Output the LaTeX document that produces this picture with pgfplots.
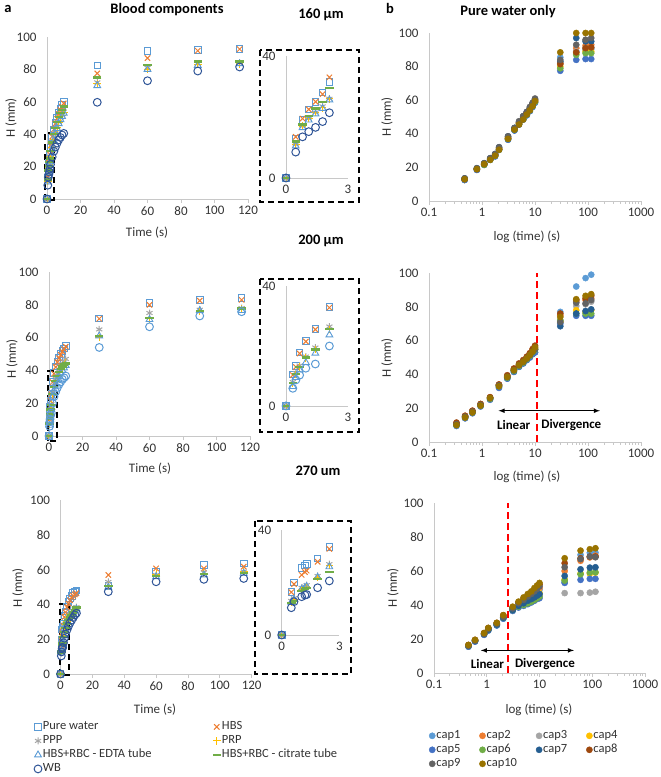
\documentclass[border=0pt]{standalone}
\usepackage{fontspec}
\setmainfont{Carlito}
\usepackage{pgfplots}
\usepackage{pgfplotstable}
\pgfplotsset{compat=1.18}

\definecolor{c1}{HTML}{5B9BD5}
\definecolor{c2}{HTML}{ED7D31}
\definecolor{c3}{HTML}{A5A5A5}
\definecolor{c4}{HTML}{FFC000}
\definecolor{c5}{HTML}{4472C4}
\definecolor{c6}{HTML}{70AD47}
\definecolor{c7}{HTML}{255E91}
\definecolor{c8}{HTML}{9E480E}
\definecolor{c9}{HTML}{636363}
\definecolor{c10}{HTML}{997300}
\definecolor{wbc}{HTML}{2F5597}
\definecolor{axg}{HTML}{C8C8C8}
\definecolor{tk}{HTML}{333333}

\pgfplotstableread{
t pw hbs ppp prp edta cit wb
0 0 0 0 0 0 0 0
0.47 13 13.5 11 11 10.5 12 8.5
0.8 19 19.5 17 17 16.5 17.5 13.5
1.1 22.5 22.5 19.5 19.5 19 20.3 15.2
1.43 25 25 21.5 21.5 21 22.8 16.6
1.77 28 27.5 23.5 23 22.8 25 18.5
2.1 31.5 33 26 26 25.6 29.6 21.4
3.1 38 38.5 32 31.5 31 35 26
4.1 43 43 37 36.5 36 40 29.5
5 47 46.5 41 40.5 40 44 32
6 50 49.5 44.5 44 43.5 47.5 34.5
7 53 52.5 47.5 47 46.5 50.5 36.5
8 55.5 55 50 49.5 49 53 38
9 58 57 52 51.5 51 55 39.5
10 60 59 54 53.5 53 57 40.5
30 82.5 77.5 72 71 70 75 59.7
60 91.5 87 81 80 80 82.7 73
90 92 91.5 83.5 83 82.5 84.8 79
115 92.5 92.5 84 83.5 83.5 85 81.5
}\aone

\pgfplotstableread{
t pw hbs ppp prp edta cit wb
0 0 0 0 0 0 0 0
0.33 10.5 10.3 8 7.5 6.5 7.6 5.9
0.48 13.3 13 11 10.5 9.5 10.7 8.7
0.66 17.8 17.5 13.5 13 12 13.1 10.3
0.96 21.7 21.5 16.5 16 14.5 16.2 12.6
1.42 25.6 25.5 19.5 18.8 17.6 18.9 14
2.1 33 32.8 26.5 25.5 23.7 25.6 20
3 38.5 38 31 30 28 30 24
4 42.5 42 35 33.5 31.5 33.5 27
5 45.5 45 38 36 34 36.5 29.5
6 48 47.5 40.5 38.5 36.5 39 31.5
7 50 49.5 42.5 40.5 38.5 41 33
8 52 51.5 44 42 40 42.5 34.5
9 53.5 53 45.5 43.5 41.5 43.5 35.5
10 55 54.5 47 44.5 43 44.3 36.6
30 71.8 71.5 65 60 61 61 54
60 81 80 75 71.5 71 72 66.6
90 83 82.5 77 76 76.5 76.4 73.2
115 84 83 78 77.5 76.5 77.8 75.8
}\atwo

\pgfplotstableread{
t pw hbs ppp prp edta cit wb
0 0 0 0 0 0 0 0
0.5 16.5 16.3 13 12.5 12.5 12.1 10.4
0.64 20 19.4 14 13.5 13.5 13 12.7
1.04 25.6 22.9 18 17.5 17.5 16.8 14.6
1.21 26.5 24 18.5 18 18 17.5 15.2
1.3 27 24.5 19 18.5 18.5 18 15.4
1.87 29.2 27.9 22.5 22 22 21.3 18
2.48 33.6 32.8 27 26.5 26 24.1 20.6
3.1 36 35.5 29 28.5 28 26.5 23
4.1 39 38.5 31 30.5 30 29 25.5
5 41.5 40.5 33 32.5 32 31 27.5
6 43.5 42.5 34.5 34 33.5 32.5 29.5
7 45 44 35.5 35 34.5 34 31
8 46.5 45 36.5 36 35.5 35.5 32.5
9 47.3 45.8 37.5 37 36.5 37 34
10 48 46.5 38.5 38 37.5 38.4 35
30 50.6 57 53 50.5 50 50.6 47.4
60 58.9 60.8 57 57.5 56 56.4 53.1
90 62.7 60.8 58.5 58 57 57.6 54.5
115 63.7 61.8 59 59 58 58.3 55
}\athree

\pgfplotstableread{
t c1 c2 c3 c4 c5 c6 c7 c8 c9 c10
0.47 12.5 13 13 13 12.5 13 13.5 13 13.5 13
0.8 18.5 19 19 19 18.5 19 19.5 19 19.5 19
1.1 21.5 22 22 22 21.5 21.5 22.5 22 22.5 22
1.43 24.5 25 25 25 24.5 24.5 25.5 25 25.5 24.5
1.77 27 27.5 27.5 27 26.5 27 28 27.5 28 27
2.1 30.5 31 31 31 30.5 30.5 32 31 32 30.5
3.1 36.5 37.5 37.5 37 36.5 37 38.5 37.5 38.5 37
4.1 42 43 43 42.5 42 42.5 43.5 43 43.5 42.5
5 45.5 46.5 46.5 46 45.5 46 47 46.5 47.5 45.5
6 48.5 50 49.5 49 48.5 49 50.5 50 50.5 48.5
7 51 52.5 52 51.5 51 51.5 53 52.5 53 51.5
8 53.5 55 54.5 54 53.5 54 55.5 55 56 54
9 56 57.5 57 56.5 56 56.5 58 57.5 58.5 56.5
10 58.5 60 59.5 59 58.5 59 60.5 60 61 59.5
30 85.5 82 82.5 80 77.5 79 83 81.5 84 88.5
60 89 91 89 88 84 87 97 88.5 93 100
90 90 92.5 91 89 84.5 88 95 91 96 100
115 90.5 93 91 89 84.5 88 95 91.5 97 100
}\bone

\pgfplotstableread{
t c1 c2 c3 c4 c5 c6 c7 c8 c9 c10
0.33 10 11 10.5 10.5 9.5 10 10.5 11.5 10.5 10
0.48 14.5 15.5 15 15 14 14.5 15 15.5 15 14.5
0.66 17.5 18.5 18 18 17 17.5 18 18.5 18 17.5
0.94 21.5 22.5 22 22 21 21.5 22 22.5 22 21.5
1.42 25.5 26.5 26 26 25 25.5 26 26.5 26 26
2.09 32.5 34 33.5 33.5 32 33 33.5 34 33.5 33
3 37.5 39 38.5 38.5 37.5 38 38.5 39.5 38.5 38.5
4 41.5 43 42.5 42.5 41.5 42 42.5 43.5 42.5 42.5
5 44.5 46 45.5 45.5 44.5 45 45.5 46.5 45.5 45.5
6 46.5 48 47.5 47.5 46.5 47 47.5 48.5 47.5 47.5
7 48.5 50 49.5 49.5 48.5 49 49.5 50.5 49.5 49.5
8 50.5 52.5 51.5 51.5 50 51 51.5 52.5 51.5 51.5
9 52 54.5 53.5 53.5 52 53 53.5 55 53.5 53.5
10 53 56.5 55 55 53 54.5 55 57 55 56
30 77 75 72 71 70 72 68.5 76 71 74
60 92 83 80.5 78 74.7 76 76 84 82.4 84.5
90 97 84 81.5 77 74.7 76 77.5 85 82 86.5
115 99 85 83 78 74.7 76 78.5 86.5 84 87.5
}\btwo

\pgfplotstableread{
t c1 c2 c3 c4 c5 c6 c7 c8 c9 c10
0.45 15.5 16 16 16 15.5 16 16 16.5 16 16.5
0.6 18.5 19 19 19 18.5 19 19 19.5 19 19.5
0.89 22.5 23 23 23 22.5 23 23 23.5 23 23.5
1.07 25 26 25.5 25.5 25 25.5 25.5 26.5 26 26.5
1.55 28 29 28.5 28.5 28 28.5 28.5 29.5 29 29.5
2.06 32 33 32.5 32.5 32 32.5 32.5 34 33 34
3.1 37 38 37.5 37.5 36.5 37 37 38.5 38 39
4 40.5 41 39.5 40 38.5 39 39.5 41.5 41 42
5 42.5 43.5 41 41.5 39.5 40 41 44 43 44.5
6 44 45 42 43 40.5 41 42.5 46 45 46.5
7 45.5 46.5 43 44 41.5 42 43.5 47.5 46.5 48
8 47 48 44 45 42.5 43 44.5 49 48 50
9 48 49 45 46 43.5 44 45.5 50.5 49.5 51.5
10 49 50 46 47 44 45 46.5 52 51 53
30 53.5 60 47 55 53 54.4 57.1 64.6 62.2 67.5
60 69.5 66 47 58.5 54.8 58.1 61 67.5 67 72
90 70.8 68 47.3 58.5 55.4 59.1 62 68.5 68.5 72.8
115 70.8 69 47.8 59 55.4 59.3 62.2 68.5 68.1 73.4
}\bthree

\tikzset{dsh/.style={black, line width=1.7pt, dash pattern=on 6pt off 4pt}}

\pgfplotsset{
  exc/.style={scale only axis, clip=false,
    axis x line*=bottom, axis y line*=left,
    axis line style={draw=axg, line width=0.8pt},
    xtick style={draw=axg, line width=0.8pt},
    ytick style={draw=none},
    tick align=outside, major tick length=4pt, minor tick length=2.5pt,
    ticklabel style={font=\fontsize{13}{15}\selectfont, text=tk},
    yticklabel style={xshift=-3pt},
    /pgf/number format/assume math mode=true,
    ymin=0, ymax=100, ytick={0,20,40,60,80,100}},
  amain/.style={exc, xmin=0, xmax=120, xtick={0,20,40,60,80,100,120}},
  ains/.style={exc, xmin=0, xmax=3, ymin=0, ymax=40, xtick={0,3}, ytick={0,40},
    xtick style={draw=none}, restrict x to domain=-1:2.6},
  blog/.style={exc, xmin=0.1, xmax=1000,
    xtick={0.1,1,10,100,1000}, xticklabels={0.1,1,10,100,1000},
    minor xtick={0.2,0.3,0.4,0.5,0.6,0.7,0.8,0.9,2,3,4,5,6,7,8,9,20,30,40,50,60,70,80,90,200,300,400,500,600,700,800,900}},
  spw/.style={only marks, mark=square, color=c1, mark size=3.3pt, line width=0.9pt},
  shbs/.style={only marks, mark=x, color=c2, mark size=3.8pt, line width=1pt},
  sppp/.style={only marks, mark=asterisk, color=c3, mark size=3.5pt, line width=1pt},
  sprp/.style={only marks, mark=+, color=c4, mark size=3.8pt, line width=1pt},
  sedta/.style={only marks, mark=triangle, color=c1, mark size=3.9pt, line width=0.9pt},
  scit/.style={only marks, mark=-, color=c6, mark size=4.2pt, line width=2.4pt},
  swb/.style={only marks, mark=o, mark size=3.9pt, line width=1pt},
  scap/.style={only marks, mark=*, mark size=3.1pt},
  redl/.style={forget plot, color=red, line width=2.2pt, dash pattern=on 7pt off 4pt},
}

\newcommand\aplots[2]{%
  \addplot[spw] table[x=t,y=pw]{#1};
  \addplot[shbs] table[x=t,y=hbs]{#1};
  \addplot[sppp] table[x=t,y=ppp]{#1};
  \addplot[sprp] table[x=t,y=prp]{#1};
  \addplot[sedta] table[x=t,y=edta]{#1};
  \addplot[scit] table[x=t,y=cit]{#1};
  \addplot[swb, color=#2] table[x=t,y=wb]{#1};
}
\newcommand\bplots[1]{%
  \pgfplotsinvokeforeach{1,...,10}{\addplot[scap, color=c##1] table[x=t,y=c##1]{#1};}%
}
\newcommand\lbl{\fontsize{13}{15}\selectfont\color{tk}}
\newcommand\ttl{\fontsize{14.5}{16}\selectfont\bfseries}

\begin{document}
\begin{tikzpicture}
\path[use as bounding box] (0pt,0pt) rectangle (661pt,-777pt);

% ---------- a1 ----------
\begin{axis}[amain, at={(47pt,-199pt)}, anchor=south west, width=201pt, height=162pt]
\aplots{\aone}{wbc}
\draw[dsh] (axis cs:-1.2,-0.6) rectangle (axis cs:4.2,40.7);
\end{axis}
\begin{axis}[ains, at={(286pt,-178pt)}, anchor=south west, width=62pt, height=122pt]
\aplots{\aone}{wbc}
\end{axis}
\draw[dsh] (260pt,-50pt) rectangle (359pt,-202pt);

% ---------- a2 ----------
\begin{axis}[amain, at={(49pt,-436pt)}, anchor=south west, width=201pt, height=164pt]
\aplots{\atwo}{c1}
\draw[dsh] (axis cs:-0.6,-2.9) rectangle (axis cs:4.8,39.8);
\end{axis}
\begin{axis}[ains, at={(286pt,-406pt)}, anchor=south west, width=62pt, height=120pt]
\aplots{\atwo}{c1}
\end{axis}
\draw[dsh] (260pt,-279pt) rectangle (359pt,-432pt);

% ---------- a3 ----------
\begin{axis}[amain, at={(60.5pt,-674pt)}, anchor=south west, width=191.2pt, height=173.7pt,
  legend columns=2, legend cell align=left,
  legend entries={Pure water, HBS, PPP, PRP, HBS+RBC - EDTA tube, HBS+RBC - citrate tube, WB},
  legend style={draw=none, fill=none, inner sep=0pt, at={(-0.139,-0.266)}, anchor=north west,
    font=\fontsize{12.5}{14}\selectfont, text=tk, row sep=1pt,
    nodes={inner sep=1pt, text height=8.5pt, text depth=2.5pt},
    /tikz/every even column/.append style={column sep=60pt}},
  legend image code/.code={\draw[mark repeat=2,mark phase=2,#1] plot coordinates {(0pt,0pt) (5pt,0pt) (10pt,0pt)};}]
\aplots{\athree}{wbc}
\draw[dsh] (axis cs:-0.3,-0.6) rectangle (axis cs:5.3,40.3);
\end{axis}
\begin{axis}[ains, at={(281.7pt,-635pt)}, anchor=south west, width=57.6pt, height=105pt]
\aplots{\athree}{wbc}
\end{axis}
\draw[dsh] (255pt,-521pt) rectangle (351pt,-674pt);

% ---------- b1 ----------
\begin{semilogxaxis}[blog, at={(429pt,-201pt)}, anchor=south west, width=212pt, height=168pt]
\bplots{\bone}
\end{semilogxaxis}

% ---------- b2 ----------
\begin{semilogxaxis}[blog, at={(429pt,-442pt)}, anchor=south west, width=212pt, height=169pt]
\bplots{\btwo}
\addplot[redl] coordinates {(11,0) (11,100)};
\draw[<->, >=latex, line width=1.1pt] (axis cs:2.05,18.5) -- (axis cs:168,18.5);
\node[font=\fontsize{13}{15}\selectfont\bfseries] at (axis cs:3.96,10) {Linear};
\node[font=\fontsize{13}{15}\selectfont\bfseries] at (axis cs:48.4,10) {Divergence};
\end{semilogxaxis}

% ---------- b3 ----------
\begin{semilogxaxis}[blog, at={(434pt,-673pt)}, anchor=south west, width=211pt, height=170pt,
  legend columns=4, legend cell align=left,
  legend entries={cap1,cap2,cap3,cap4,cap5,cap6,cap7,cap8,cap9,cap10},
  legend style={draw=none, fill=none, inner sep=0pt, at={(-0.024,-0.33)}, anchor=north west,
    font=\fontsize{12.5}{14}\selectfont, text=tk, row sep=1pt,
    nodes={inner sep=1pt, text height=8.5pt, text depth=2.5pt},
    /tikz/every even column/.append style={column sep=18pt}},
  legend image code/.code={\draw[mark repeat=2,mark phase=2,#1] plot coordinates {(0pt,0pt) (5pt,0pt) (10pt,0pt)};}]
\bplots{\bthree}
\addplot[redl] coordinates {(2.56,0) (2.56,100)};
\draw[<->, >=latex, line width=1.1pt] (axis cs:0.77,13.3) -- (axis cs:45,13.3);
\node[font=\fontsize{13}{15}\selectfont\bfseries] at (axis cs:1.03,5.5) {Linear};
\node[font=\fontsize{13}{15}\selectfont\bfseries] at (axis cs:12.7,5.5) {Divergence};
\end{semilogxaxis}

% ---------- titles and labels ----------
\node[font=\ttl] at (8pt,-9pt) {a};
\node[font=\ttl] at (167pt,-10pt) {Blood components};
\node[font=\ttl] at (321pt,-15pt) {160 µm};
\node[font=\ttl] at (321pt,-241pt) {200 µm};
\node[font=\ttl] at (318pt,-471pt) {270 um};
\node[font=\ttl] at (390pt,-8pt) {b};
\node[font=\ttl] at (508pt,-12pt) {Pure water only};

\node[font=\lbl, rotate=90] at (11pt,-118pt) {H (mm)};
\node[font=\lbl] at (147pt,-233pt) {Time (s)};
\node[font=\lbl, rotate=90] at (12pt,-359pt) {H (mm)};
\node[font=\lbl] at (150pt,-469pt) {Time (s)};
\node[font=\lbl, rotate=90] at (18pt,-588pt) {H (mm)};
\node[font=\lbl] at (155pt,-710pt) {Time (s)};
\node[font=\lbl, rotate=90] at (387pt,-117pt) {H (mm)};
\node[font=\lbl] at (527pt,-237pt) {log (time) (s)};
\node[font=\lbl, rotate=90] at (387pt,-358pt) {H (mm)};
\node[font=\lbl] at (527pt,-477pt) {log (time) (s)};
\node[font=\lbl, rotate=90] at (393pt,-588pt) {H (mm)};
\node[font=\lbl] at (539pt,-710pt) {log (time) (s)};
\end{tikzpicture}
\end{document}
